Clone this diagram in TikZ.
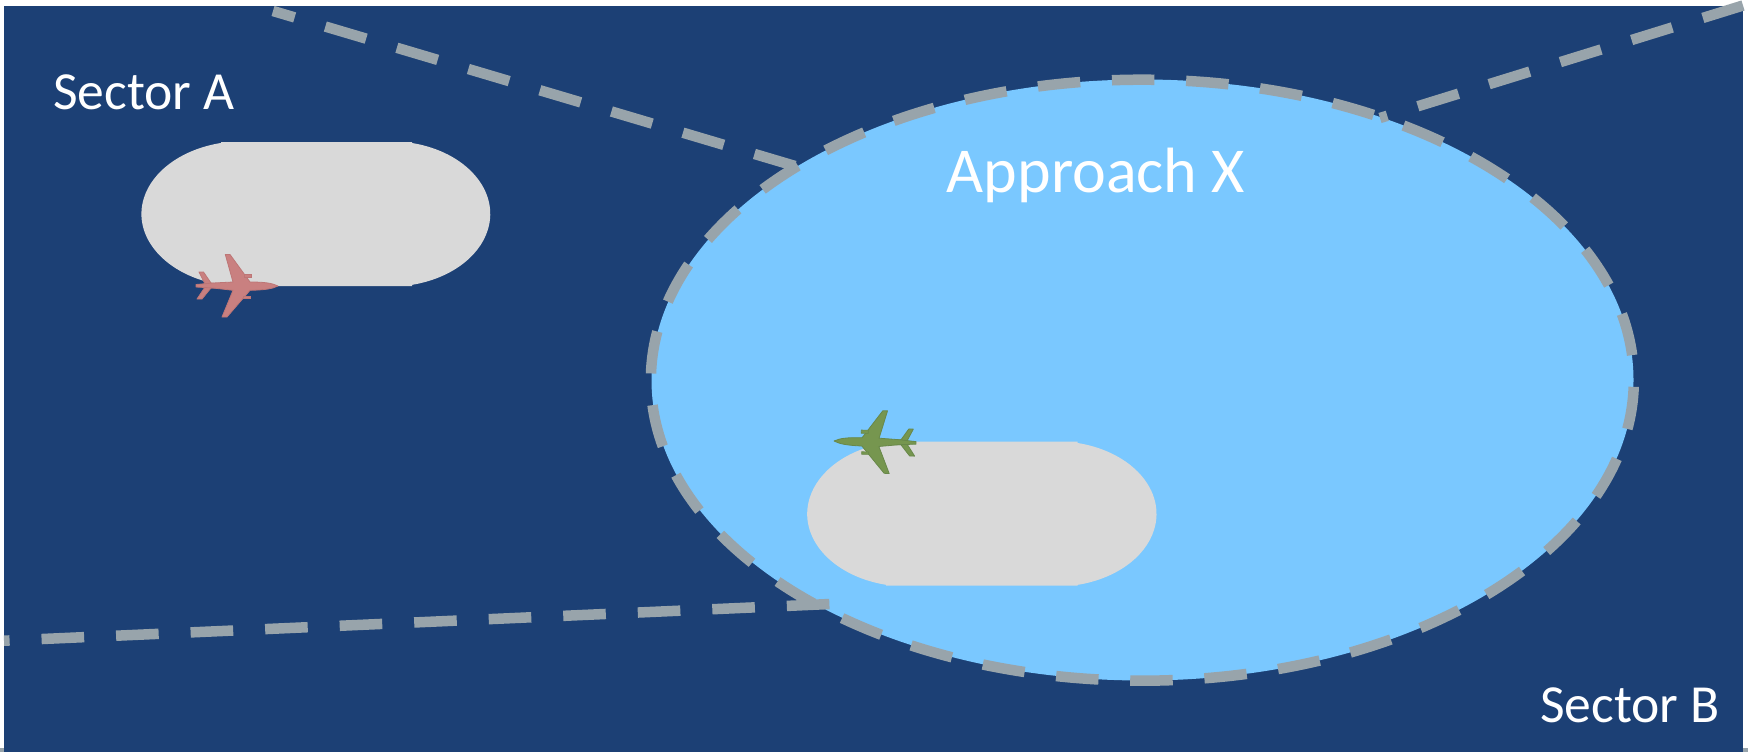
\documentclass[tikz,border=0pt]{standalone}
\usepackage{fontspec}
\setmainfont{Carlito}
\definecolor{navy}{HTML}{1C4075}
\definecolor{skyb}{HTML}{7AC8FF}
\definecolor{pale}{HTML}{D9D9D9}
\definecolor{dashc}{HTML}{98A4AB}
\definecolor{redp}{HTML}{C98080}
\definecolor{redd}{HTML}{BD7676}
\definecolor{grnp}{HTML}{76964F}
\definecolor{grnd}{HTML}{68884A}
\tikzset{
  x=1pt,y=-1pt,
  border line/.style={draw=dashc,line width=10.5pt,dash pattern=on 42.6pt off 32pt},
  zone line/.style={draw=dashc,line width=10.5pt,dash pattern=on 42.5pt off 31.75pt},
  label text/.style={text=white,inner sep=0pt,anchor=base},
  runway/.style={fill=pale},
  planeshape/.pic={
    \path[pic actions,line width=0.8pt,line join=round]
      (-81,-1) -- (-73,-2) -- (-79,-14) -- (-74.5,-14) -- (-67,-3) -- (-60,-2) -- (-60,2) -- (-67,2) -- (-76,13) -- (-81,13) -- (-73,1) -- cycle;
    \path[pic actions,line width=0.8pt,line join=round]
      (0,0) .. controls (-6,-3) and (-14,-4) .. (-28,-4)
      -- (-48,-31.5) -- (-52.7,-31.5) -- (-45,-4) -- (-65,-3) -- (-82,-1.5) -- (-82,1)
      -- (-65,2) -- (-45,4.3) -- (-56,31) -- (-51,31) -- (-28,4.3)
      .. controls (-14,4) and (-6,3) .. (0,0) -- cycle;
    \path[pic actions,line width=0.6pt] (-34,-11.7) rectangle (-27,-8.5);
    \path[pic actions,line width=0.6pt] (-35,10) rectangle (-28,12.5);
  }
}
\begin{document}
\begin{tikzpicture}
\useasboundingbox (0,0) rectangle (1748,752);
\fill[white] (0,0) rectangle (1748,752);
\fill[navy] (4,6) rectangle (1743,752);
\fill[dashc] (0,748) rectangle (4,752);
\fill[dashc] (1743,748) rectangle (1748,752);
% approach area
\fill[skyb] (1142.5,380) ellipse [x radius=491,y radius=300.5];
% sector boundaries
\coordinate (tla) at (273,11);
\coordinate (tlb) at (795,166);
\coordinate (tra) at (1380,118);
\coordinate (trb) at (1743,5.5);
\coordinate (bla) at (4,640.7);
\coordinate (blb) at (830,604);
\coordinate (ell) at (1633.7,387);
\draw[border line,dash phase=20pt] (tla) -- (tlb);
\draw[border line,dash phase=35pt] (tra) -- (trb);
\draw[border line,dash phase=37pt] (bla) -- (blb);
\draw[zone line] (ell) arc[start angle=-1.3,delta angle=-360,x radius=491.5pt,y radius=300.5pt];
% runways
\fill[runway] (221,142) -- (412,142) -- (412,143) arc[start angle=77.3,end angle=-77.3,x radius=100.3pt,y radius=72.7pt] -- (412,286) -- (221,286) -- (221,284.8) arc[start angle=257.3,end angle=102.7,x radius=102pt,y radius=72.7pt] -- cycle;
\fill[runway] (886,441.7) -- (1077.7,441.7) -- (1077.7,443) arc[start angle=77.3,end angle=-77.3,x radius=101pt,y radius=72.7pt] -- (1077.7,585.7) -- (886,585.7) -- (886,584.8) arc[start angle=257.3,end angle=102.7,x radius=101pt,y radius=72.7pt] -- cycle;
% aircraft
\pic[fill=redp,draw=redd] at (278,286) {planeshape};
\pic[fill=grnp,draw=grnd,xscale=-1,rotate=1.5] at (834,441) {planeshape};
% labels
\node[label text,font=\fontsize{53.6}{54}\selectfont] (sa) at (144,110) {Sector A};
\node[label text,font=\fontsize{53.6}{54}\selectfont] (sb) at (1630,722.7) {Sector B};
\node[label text,font=\fontsize{64}{64}\selectfont] (ax) at (1096,192) {Approach X};
\end{tikzpicture}
\end{document}
